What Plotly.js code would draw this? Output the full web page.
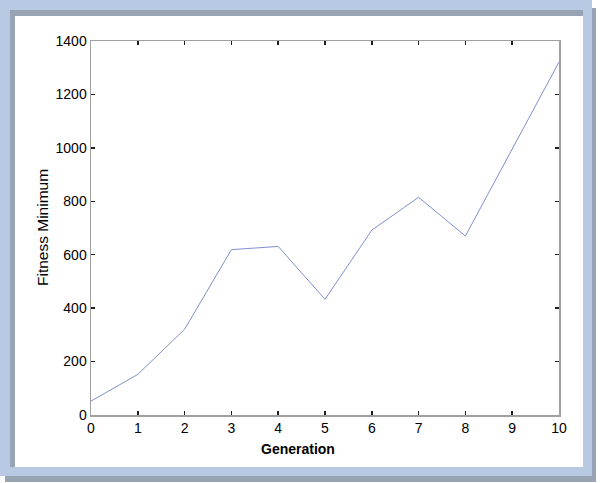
<!DOCTYPE html>
<html>
<head>
<meta charset="utf-8">
<script src="https://cdn.plot.ly/plotly-3.0.1.min.js"></script>
<style>
  html, body { margin: 0; padding: 0; background: #ffffff; }
  #wrap { position: relative; width: 600px; height: 483px; overflow: hidden; }
  .deco { position: absolute; }
  #shadow { left: 5px; top: 8px; width: 591px; height: 474px; background: #98a4b4; }
  #frame { left: 0; top: 0; width: 592px; height: 476px; background: #b8cae3; }
  #panel { left: 10px; top: 10px; width: 573px; height: 457px; background: #ffffff; }
  #insetTop { left: 10px; top: 10px; width: 573px; height: 6px; background: #98a4b4; }
  #insetLeft { left: 10px; top: 10px; width: 5px; height: 457px; background: #98a4b4; }
  #chart { position: absolute; left: 0; top: 0; width: 600px; height: 483px; }
</style>
</head>
<body>
<div id="wrap">
  <div class="deco" id="shadow"></div>
  <div class="deco" id="frame"></div>
  <div class="deco" id="panel"></div>
  <div class="deco" id="insetTop"></div>
  <div class="deco" id="insetLeft"></div>
  <div id="chart"></div>
</div>
<script>
const generations = [0, 1, 2, 3, 4, 5, 6, 7, 8, 9, 10];
const fitnessMinimum = [52, 152, 321, 619, 631, 433, 692, 815, 670, 995, 1321];
const xTickValues = [0, 1, 2, 3, 4, 5, 6, 7, 8, 9, 10];
const yTickValues = [0, 200, 400, 600, 800, 1000, 1200, 1400];

const trace = {
  x: generations,
  y: fitnessMinimum,
  type: 'scatter',
  mode: 'lines',
  line: { color: '#7f8fcf', width: 1 },
  hoverinfo: 'skip'
};

const axisCommon = {
  showgrid: false,
  zeroline: false,
  showline: true,
  linecolor: '#a0a0a0',
  linewidth: 1.5,
  mirror: 'ticks',
  ticks: 'inside',
  ticklen: 4,
  tickwidth: 1.5,
  tickcolor: '#202020',
  tickfont: { family: 'Liberation Sans, Arial, sans-serif', size: 14, color: '#000000' }
};

const layout = {
  width: 600,
  height: 483,
  margin: { l: 91, r: 41, t: 41, b: 68 },
  paper_bgcolor: 'rgba(0,0,0,0)',
  plot_bgcolor: 'rgba(0,0,0,0)',
  showlegend: false,
  xaxis: Object.assign({}, axisCommon, {
    range: [0, 10],
    tickmode: 'array',
    tickvals: xTickValues,
    ticktext: xTickValues.map(String)
  }),
  yaxis: Object.assign({}, axisCommon, {
    range: [0, 1400],
    tickmode: 'array',
    tickvals: yTickValues,
    ticktext: yTickValues.map(String)
  }),
  annotations: [
    {
      text: '<b>Generation</b>',
      xref: 'paper', yref: 'paper',
      x: 0.442, y: -0.0909,
      xanchor: 'center', yanchor: 'middle',
      showarrow: false,
      font: { family: 'Liberation Sans, Arial, sans-serif', size: 14, color: '#000000' }
    },
    {
      text: 'Fitness Minimum',
      xref: 'paper', yref: 'paper',
      x: -0.1047, y: 0.5,
      xanchor: 'center', yanchor: 'middle',
      textangle: -90,
      showarrow: false,
      font: { family: 'Liberation Sans, Arial, sans-serif', size: 15.5, color: '#000000' }
    }
  ]
};

Plotly.newPlot('chart', [trace], layout, { displayModeBar: false, staticPlot: true });
</script>
</body>
</html>
